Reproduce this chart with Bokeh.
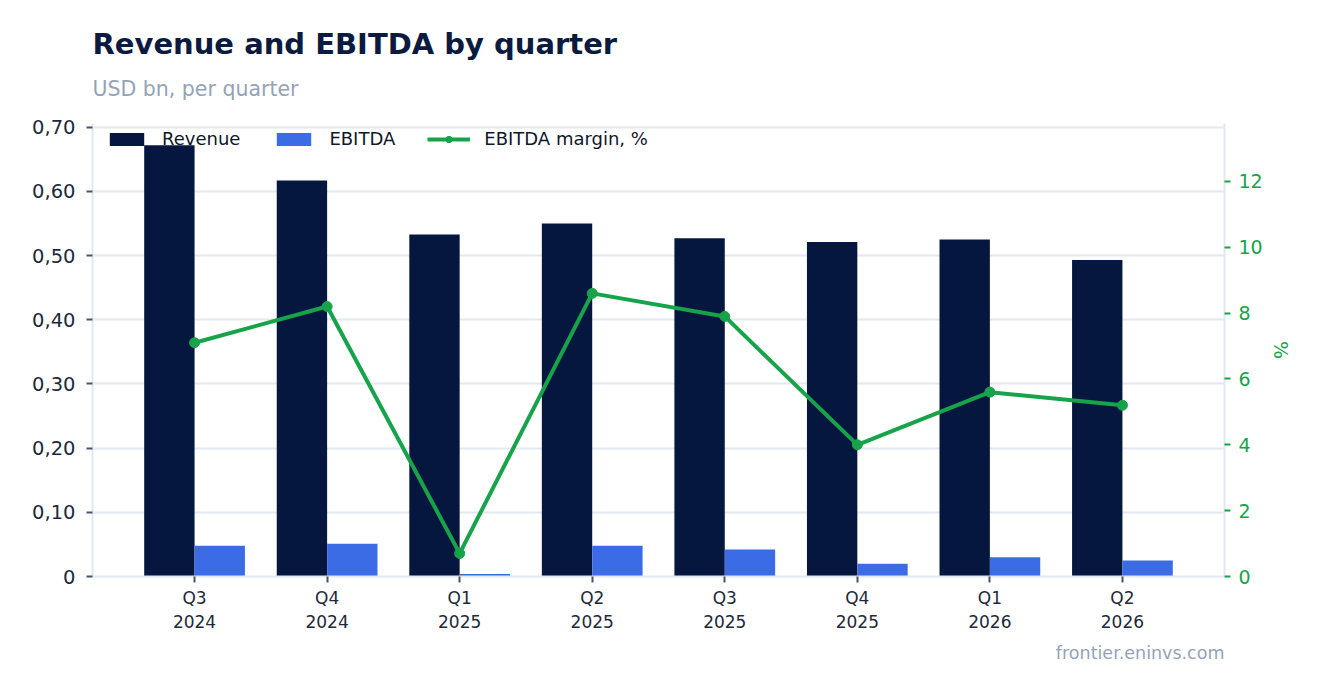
from bokeh.plotting import figure
from bokeh.models import (FactorRange, Range1d, LinearAxis, FixedTicker, Title,
                          Legend, LegendItem, ColumnDataSource)
from bokeh.transform import dodge
from bokeh.embed import file_html
from bokeh.resources import INLINE

# ---- data ----
quarters = ["Q3\n2024", "Q4\n2024", "Q1\n2025", "Q2\n2025",
            "Q3\n2025", "Q4\n2025", "Q1\n2026", "Q2\n2026"]
revenue = [0.672, 0.617, 0.533, 0.550, 0.527, 0.521, 0.525, 0.493]
ebitda = [0.048, 0.051, 0.004, 0.048, 0.042, 0.020, 0.030, 0.025]
margin = [7.1, 8.2, 0.7, 8.6, 7.9, 4.0, 5.6, 5.2]
left_ticks = [0, 0.1, 0.2, 0.3, 0.4, 0.5, 0.6, 0.7]
left_labels = ["0", "0,10", "0,20", "0,30", "0,40", "0,50", "0,60", "0,70"]
right_ticks = [0, 2, 4, 6, 8, 10, 12]

NAVY = "#06173f"
BLUE = "#3b6ce6"
GREEN = "#16a34a"
GRID = "#e2e8f0"
MUTED = "#94a3b8"
DARK = "#1e293b"
FONT = "DejaVu Sans"

src = ColumnDataSource(dict(q=quarters, revenue=revenue, ebitda=ebitda, margin=margin))

W, H = 1315, 685
p = figure(width=W, height=H,
           x_range=FactorRange(factors=quarters, range_padding=0.0675),
           y_range=Range1d(0, 0.7058),
           output_backend="svg", toolbar_location=None,
           min_border_left=92, min_border_right=91,
           min_border_top=123, min_border_bottom=109)
p.title = None
p.outline_line_color = None
p.background_fill_color = "white"
p.border_fill_color = "white"

p.extra_y_ranges = {"pct": Range1d(0, 13.76)}

# bars
r_rev = p.vbar(x=dodge("q", -0.19, range=p.x_range), top="revenue", width=0.38,
               source=src, fill_color=NAVY, line_color=None)
r_eb = p.vbar(x=dodge("q", 0.19, range=p.x_range), top="ebitda", width=0.38,
              source=src, fill_color=BLUE, line_color=None)
# margin line
r_ln = p.line(x="q", y="margin", source=src, y_range_name="pct",
              line_color=GREEN, line_width=4)
r_pt = p.scatter(x="q", y="margin", source=src, y_range_name="pct",
                 size=10, fill_color=GREEN, line_color=GREEN)

# grid
p.xgrid.grid_line_color = None
p.ygrid.grid_line_color = GRID
p.ygrid.grid_line_width = 2
p.ygrid.ticker = FixedTicker(ticks=left_ticks)

# left axis
ya = p.yaxis[0]
ya.ticker = FixedTicker(ticks=left_ticks)
ya.major_label_overrides = {t: l for t, l in zip(left_ticks, left_labels)}
ya.major_label_text_font = FONT
ya.major_label_text_font_size = "19.5px"
ya.major_label_text_color = DARK
ya.axis_line_color = GRID
ya.axis_line_width = 2
ya.major_tick_line_color = "#475569"
ya.major_tick_line_width = 2
ya.major_tick_in = 0
ya.major_tick_out = 6
ya.minor_tick_line_color = None
ya.major_label_standoff = 11

# x axis
xa = p.xaxis[0]
xa.major_label_text_font = FONT
xa.major_label_text_font_size = "17px"
xa.major_label_text_color = DARK
xa.axis_line_color = GRID
xa.axis_line_width = 2
xa.major_tick_line_color = "#475569"
xa.major_tick_line_width = 2
xa.major_tick_in = 0
xa.major_tick_out = 6
xa.major_label_standoff = 5

# right axis
ra = LinearAxis(y_range_name="pct", ticker=FixedTicker(ticks=right_ticks),
                axis_label="%")
ra.major_label_text_font = FONT
ra.major_label_text_font_size = "19px"
ra.major_label_text_color = GREEN
ra.axis_label_text_font = FONT
ra.axis_label_text_font_size = "19px"
ra.axis_label_text_color = GREEN
ra.axis_label_text_font_style = "normal"
ra.axis_line_color = GRID
ra.axis_line_width = 2
ra.major_tick_line_color = GREEN
ra.major_tick_line_width = 2
ra.major_tick_in = 0
ra.major_tick_out = 6
ra.minor_tick_line_color = None
ra.major_label_standoff = 8
ra.axis_label_standoff = 4
p.add_layout(ra, "right")

# legend
legend = Legend(items=[
    LegendItem(label="Revenue", renderers=[r_rev]),
    LegendItem(label="EBITDA", renderers=[r_eb]),
    LegendItem(label="EBITDA margin, %", renderers=[r_ln, r_pt]),
], location="top_left", orientation="horizontal",
    background_fill_alpha=0, border_line_alpha=0,
    label_text_font=FONT, label_text_font_size="18px", label_text_color="#0f172a",
    glyph_width=43, glyph_height=16, spacing=32, label_standoff=14,
    margin=0, padding=0)
legend.location = (13, 453 - 26)
p.add_layout(legend, "center")

# titles
sub = Title(text="USD bn, per quarter", align="left", text_font=FONT,
            text_font_size="20.5px", text_font_style="normal", text_color=MUTED,
            standoff=45)
p.add_layout(sub, "above")
ttl = Title(text="Revenue and EBITDA by quarter", align="left", text_font=FONT,
            text_font_size="29px", text_font_style="bold", text_color="#0b1a3f",
            standoff=-17)
p.add_layout(ttl, "above")

foot = Title(text="frontier.eninvs.com", align="right", text_font=FONT,
             text_font_size="17.5px", text_font_style="normal", text_color=MUTED,
             standoff=12)
p.add_layout(foot, "below")

open("out.html", "w").write(file_html(p, INLINE))
